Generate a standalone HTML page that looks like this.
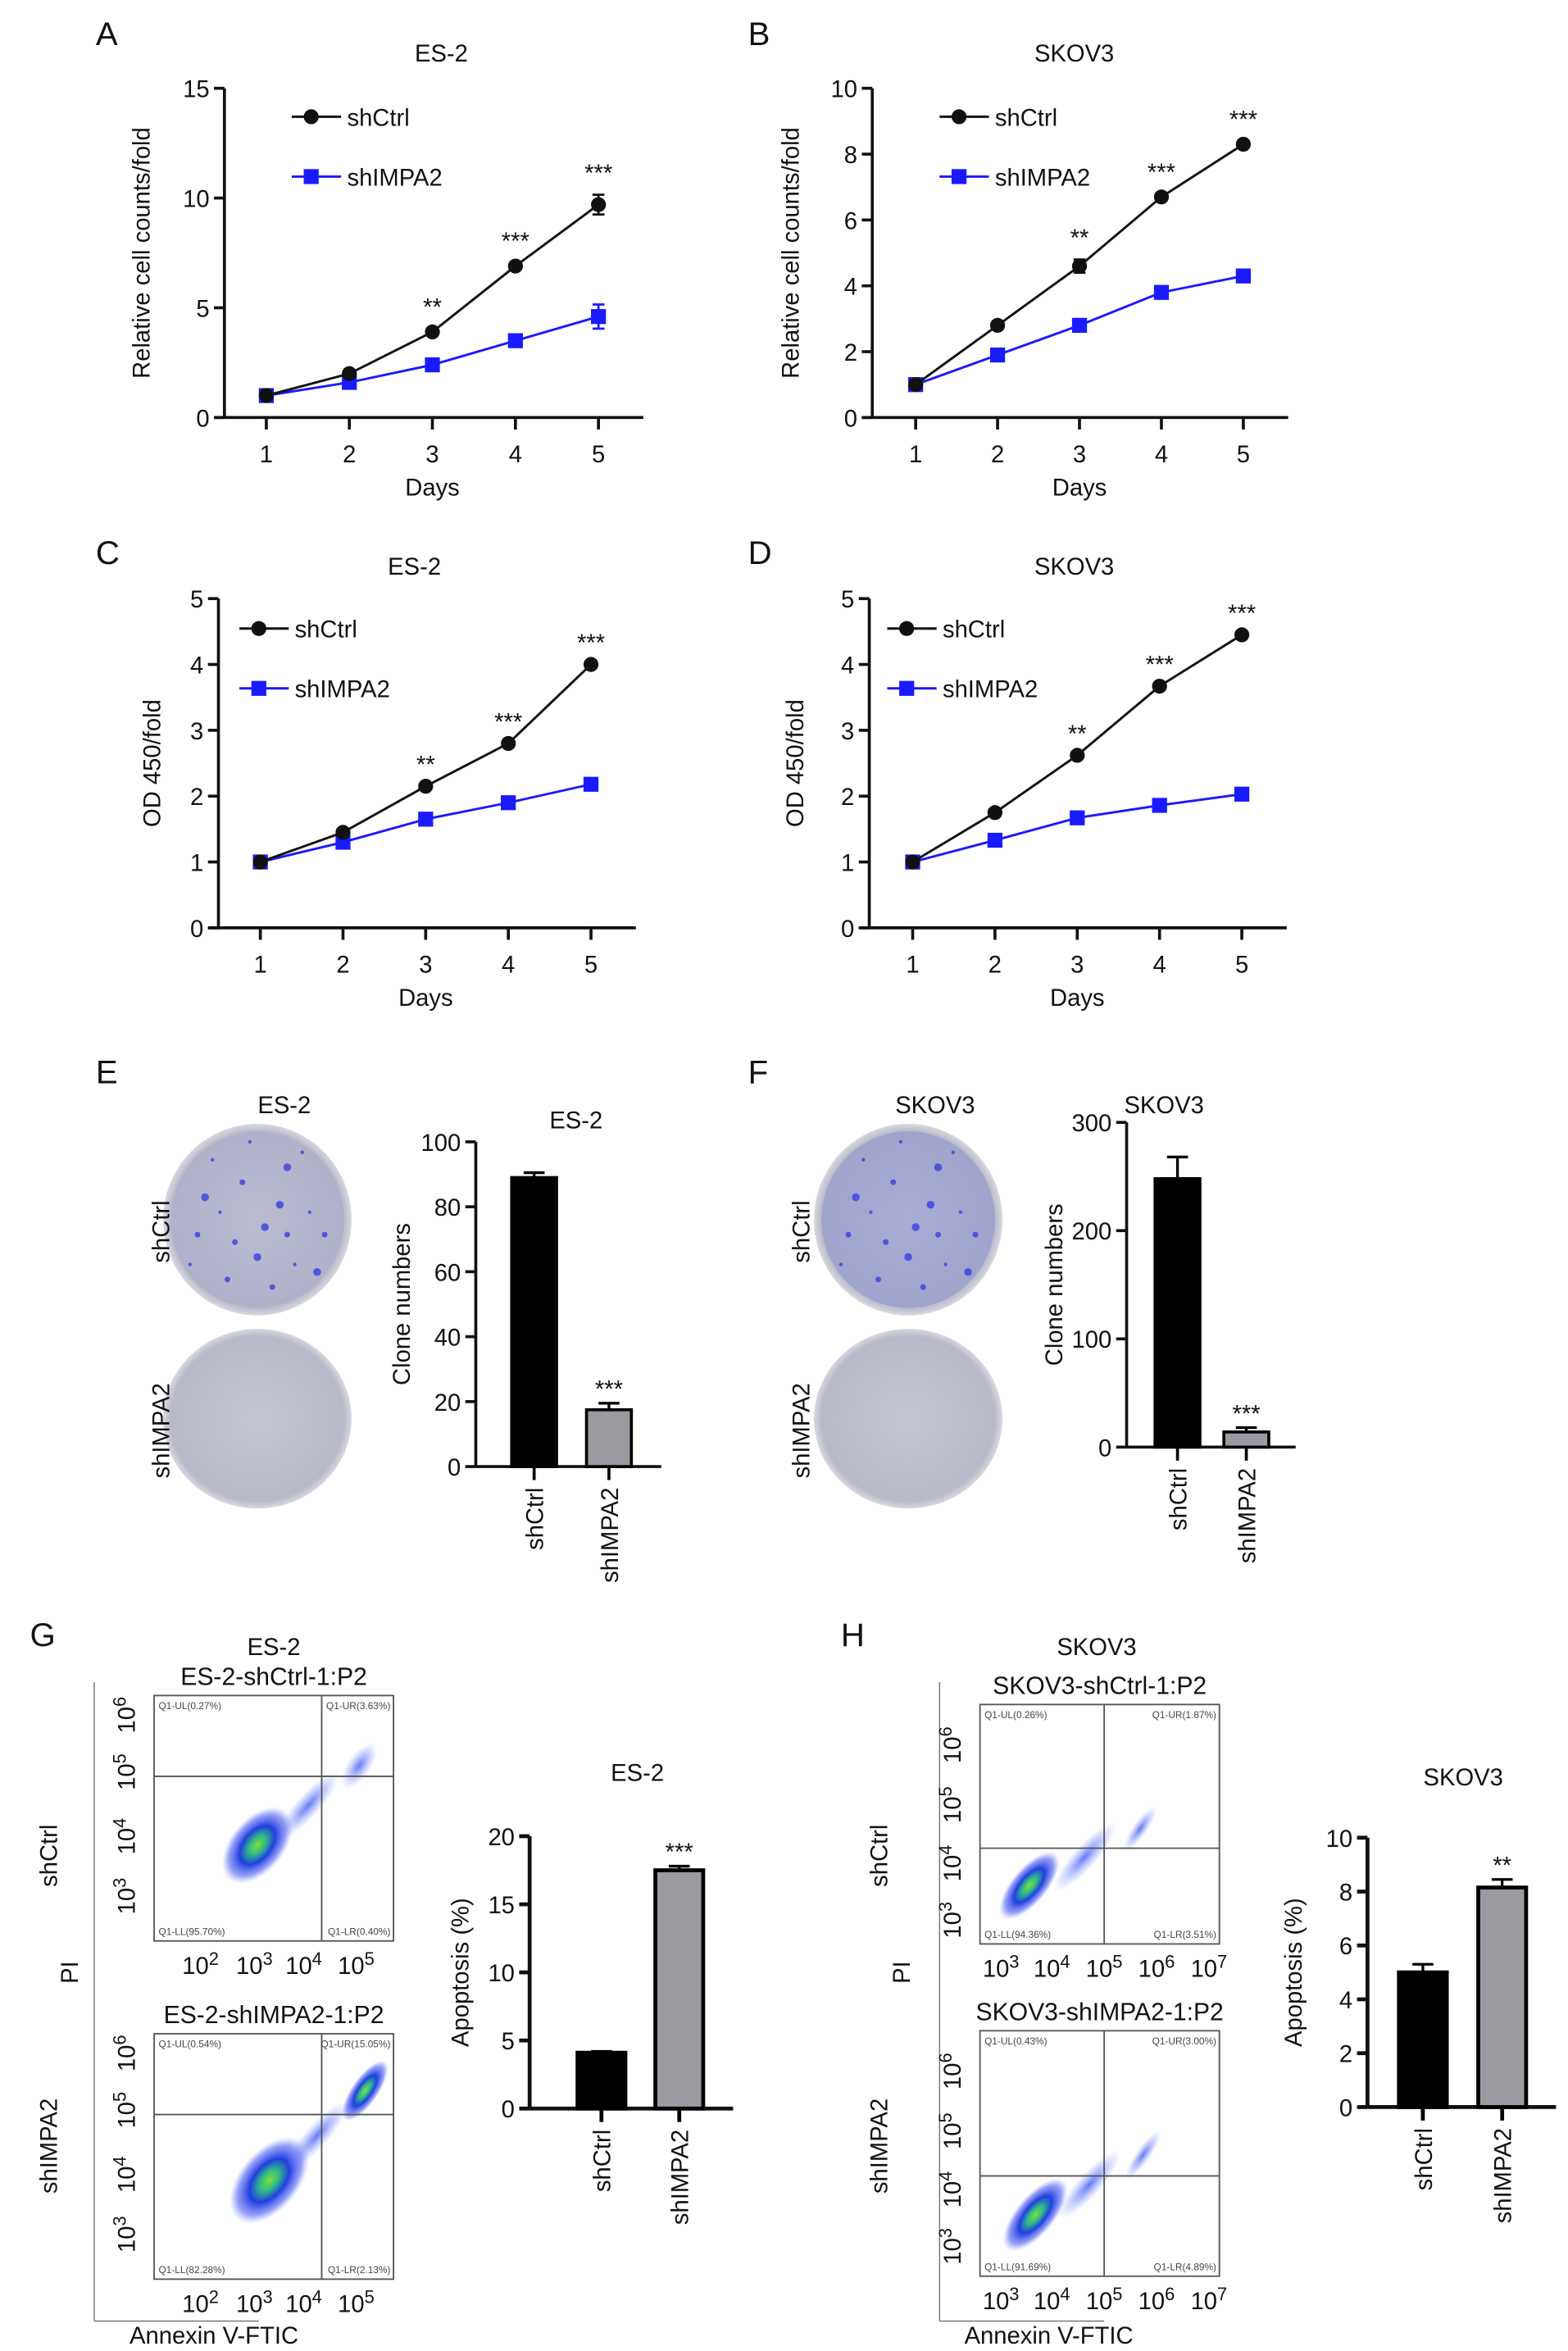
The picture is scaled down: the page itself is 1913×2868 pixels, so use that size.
<!DOCTYPE html>
<html><head><meta charset="utf-8">
<style>
html,body{margin:0;padding:0;background:#fff;}
svg{display:block;font-family:"Liberation Sans",Arial,sans-serif;}
</style></head>
<body>
<svg id="fig" xmlns="http://www.w3.org/2000/svg" width="1913" height="2868" viewBox="0 0 1048 1571" preserveAspectRatio="none">
<defs>
<radialGradient id="cloud" cx="50%" cy="50%" r="50%">
<stop offset="0%" stop-color="#7fe03a"/>
<stop offset="25%" stop-color="#2fb88a"/>
<stop offset="50%" stop-color="#1f3fe0"/>
<stop offset="80%" stop-color="#5060f0" stop-opacity="0.6"/>
<stop offset="100%" stop-color="#8090ff" stop-opacity="0"/>
</radialGradient>
<radialGradient id="cloudb" cx="50%" cy="50%" r="50%">
<stop offset="0%" stop-color="#3a5af0" stop-opacity="0.8"/>
<stop offset="100%" stop-color="#8090ff" stop-opacity="0"/>
</radialGradient>
<radialGradient id="plate" cx="50%" cy="50%" r="50%">
<stop offset="0%" stop-color="#c4c6d2"/>
<stop offset="92%" stop-color="#b8bac8"/>
<stop offset="100%" stop-color="#d8d8e0"/>
</radialGradient>
</defs>
</svg>
<script>
// ---- data ----
const days = [1, 2, 3, 4, 5];
const aCtrl = [1, 2.0, 3.9, 6.9, 9.7];
const aCtrlErr = [0.1, 0.15, 0.15, 0.15, 0.45];
const aSh = [1, 1.6, 2.4, 3.5, 4.6];
const aShErr = [0.1, 0.1, 0.15, 0.15, 0.55];
const aStars = ['', '', '**', '***', '***'];
const aTicks = [0, 5, 10, 15];

const bCtrl = [1, 2.8, 4.6, 6.7, 8.3];
const bCtrlErr = [0.05, 0.1, 0.2, 0.1, 0.1];
const bSh = [1, 1.9, 2.8, 3.8, 4.3];
const bShErr = [0.05, 0.05, 0.1, 0.1, 0.1];
const bStars = ['', '', '**', '***', '***'];
const bTicks = [0, 2, 4, 6, 8, 10];

const cCtrl = [1, 1.45, 2.15, 2.8, 4.0];
const cSh = [1, 1.3, 1.65, 1.9, 2.18];
const cStars = ['', '', '**', '***', '***'];
const dCtrl = [1, 1.75, 2.62, 3.67, 4.45];
const dSh = [1, 1.33, 1.67, 1.86, 2.03];
const dStars = ['', '', '**', '***', '***'];
const cdTicks = [0, 1, 2, 3, 4, 5];
const zeroErr = [0, 0, 0, 0, 0];

const groups = ['shCtrl', 'shIMPA2'];
const eVals = [89, 17.5];
const eErr = [1.5, 2];
const eTicks = [0, 20, 40, 60, 80, 100];
const fVals = [248, 14];
const fErr = [20, 4];
const fTicks = [0, 100, 200, 300];
const gVals = [4.1, 17.5];
const gErr = [0.1, 0.3];
const gTicks = [0, 5, 10, 15, 20];
const hVals = [5.0, 8.15];
const hErr = [0.3, 0.3];
const hTicks = [0, 2, 4, 6, 8, 10];
const barStars = ['', '***'];
const hStars = ['', '**'];

// ---- helpers ----
const NS = 'http://www.w3.org/2000/svg';
const svg = document.getElementById('fig');
function el(tag, attrs, parent) {
  const e = document.createElementNS(NS, tag);
  for (const k in attrs) e.setAttribute(k, attrs[k]);
  (parent || svg).appendChild(e);
  return e;
}
function txt(s, x, y, size, parent, extra) {
  const t = el('text', Object.assign({x: x, y: y, 'font-size': size, 'text-anchor': 'middle', fill: '#111'}, extra || {}), parent);
  t.textContent = s;
  return t;
}
function group(name) {
  const g = el('g', {});
  
  
  return g;
}

function lineChart(name, o) {
  const g = group(name);
  const X = d => o.x1 + (d - 1) * (o.x5 - o.x1) / 4;
  const ymax = o.ticks[o.ticks.length - 1];
  const Y = v => o.yBot - v / ymax * (o.yBot - o.yTop);
  const l = txt(o.letter, o.lx, o.ly, 22, g, {'text-anchor': 'start'});
  
  
  const t = txt(o.title, o.tx, 41, 16, g);
  
  
  const ya = el('line', {x1: o.ax, y1: o.yTop, x2: o.ax, y2: o.yBot, stroke: '#111', 'stroke-width': 2}, g);
  
  
  const xa = el('line', {x1: o.ax - 7, y1: o.yBot, x2: o.x5 + 30, y2: o.yBot, stroke: '#111', 'stroke-width': 2}, g);
  
  
  o.ticks.forEach(v => {
    el('line', {x1: o.ax - 7, y1: Y(v), x2: o.ax, y2: Y(v), stroke: '#111', 'stroke-width': 2}, g);
    const tl = txt(String(v), o.ax - 10, Y(v) + 6, 16, g, {'text-anchor': 'end'});
    
    
  });
  days.forEach(d => {
    el('line', {x1: X(d), y1: o.yBot, x2: X(d), y2: o.yBot + 8, stroke: '#111', 'stroke-width': 2}, g);
    const tl = txt(String(d), X(d), o.yBot + 30, 16, g);
    
    
  });
  const xt = txt('Days', (o.x1 + o.x5) / 2, o.yBot + 52, 16, g);
  
  
  const yc = (o.yTop + o.yBot) / 2;
  const yt = txt(o.ylab, o.ylx, yc, 16, g, {transform: 'rotate(-90 ' + o.ylx + ' ' + yc + ')'});
  
  
  function series(vals, errs, color, square, sname) {
    const sg = el('g', {}, g);
    
    
    el('polyline', {points: vals.map((v, i) => X(days[i]) + ',' + Y(v)).join(' '), fill: 'none', stroke: color, 'stroke-width': 1.6}, sg);
    vals.forEach((v, i) => {
      const x = X(days[i]), y = Y(v), e = errs[i] / ymax * (o.yBot - o.yTop);
      if (e > 1.5) {
        el('line', {x1: x, y1: y - e, x2: x, y2: y + e, stroke: color, 'stroke-width': 1.5}, sg);
        el('line', {x1: x - 4, y1: y - e, x2: x + 4, y2: y - e, stroke: color, 'stroke-width': 1.5}, sg);
        el('line', {x1: x - 4, y1: y + e, x2: x + 4, y2: y + e, stroke: color, 'stroke-width': 1.5}, sg);
      }
      const m = square ? el('rect', {x: x - 5, y: y - 5, width: 10, height: 10, fill: color}, sg)
                       : el('circle', {cx: x, cy: y, r: 5, fill: color}, sg);
      
      
    });
  }
  series(o.sh, o.shErr, '#1a1aff', true, 'series-shimpa2');
  series(o.ctrl, o.ctrlErr, '#111', false, 'series-shctrl');
  o.stars.forEach((s, i) => {
    if (!s) return;
    const st = txt(s, X(days[i]), Y(o.ctrl[i] + o.ctrlErr[i]) - 9, 16, g);
    
    
  });
  const lg = el('g', {}, g);
  
  
  el('line', {x1: o.lgx, y1: o.lgy, x2: o.lgx + 33, y2: o.lgy, stroke: '#111', 'stroke-width': 1.6}, lg);
  el('circle', {cx: o.lgx + 13, cy: o.lgy, r: 5, fill: '#111'}, lg);
  txt('shCtrl', o.lgx + 37, o.lgy + 6, 16, lg, {'text-anchor': 'start'});
  el('line', {x1: o.lgx, y1: o.lgy + 40, x2: o.lgx + 33, y2: o.lgy + 40, stroke: '#1a1aff', 'stroke-width': 1.6}, lg);
  el('rect', {x: o.lgx + 8, y: o.lgy + 35, width: 10, height: 10, fill: '#1a1aff'}, lg);
  txt('shIMPA2', o.lgx + 37, o.lgy + 46, 16, lg, {'text-anchor': 'start'});
}

lineChart('panel-a-chart', {letter: 'A', lx: 64, ly: 30, title: 'ES-2', tx: 295, ax: 150, yTop: 59, yBot: 279, x1: 178, x5: 400, ticks: aTicks, ctrl: aCtrl, ctrlErr: aCtrlErr, sh: aSh, shErr: aShErr, stars: aStars, ylab: 'Relative cell counts/fold', ylx: 100, lgx: 195, lgy: 78});
lineChart('panel-b-chart', {letter: 'B', lx: 500, ly: 30, title: 'SKOV3', tx: 718, ax: 583, yTop: 59, yBot: 279, x1: 612, x5: 831, ticks: bTicks, ctrl: bCtrl, ctrlErr: bCtrlErr, sh: bSh, shErr: bShErr, stars: bStars, ylab: 'Relative cell counts/fold', ylx: 534, lgx: 628, lgy: 78});
lineChart('panel-c-chart', {letter: 'C', lx: 64, ly: 377, title: '', tx: 0, ax: 146, yTop: 400, yBot: 620, x1: 174, x5: 395, ticks: cdTicks, ctrl: cCtrl, ctrlErr: zeroErr, sh: cSh, shErr: zeroErr, stars: cStars, ylab: 'OD 450/fold', ylx: 107, lgx: 160, lgy: 420});
lineChart('panel-d-chart', {letter: 'D', lx: 500, ly: 377, title: '', tx: 0, ax: 581, yTop: 400, yBot: 620, x1: 610, x5: 830, ticks: cdTicks, ctrl: dCtrl, ctrlErr: zeroErr, sh: dSh, shErr: zeroErr, stars: dStars, ylab: 'OD 450/fold', ylx: 537, lgx: 593, lgy: 420});
(function(){
  const t1 = txt('ES-2', 277, 384, 16);  
  const t2 = txt('SKOV3', 718, 384, 16);  
})();

function barChart(name, o) {
  const g = group(name);
  const ymax = o.ticks[o.ticks.length - 1];
  const Y = v => o.yBot - v / ymax * (o.yBot - o.yTop);
  const t = txt(o.title, o.tx, o.ty, 16, g);
  
  
  const ya = el('line', {x1: o.ax, y1: o.yTop, x2: o.ax, y2: o.yBot, stroke: '#111', 'stroke-width': o.sw}, g);
  
  
  const xa = el('line', {x1: o.ax, y1: o.yBot, x2: o.xEnd, y2: o.yBot, stroke: '#111', 'stroke-width': o.sw}, g);
  
  
  o.ticks.forEach(v => {
    el('line', {x1: o.ax - 7, y1: Y(v), x2: o.ax, y2: Y(v), stroke: '#111', 'stroke-width': o.sw}, g);
    const tl = txt(String(v), o.ax - 10, Y(v) + 6, 16, g, {'text-anchor': 'end'});
    
    
  });
  const yc = (o.yTop + o.yBot) / 2;
  const yt = txt(o.ylab, o.ylx, yc, 16, g, {transform: 'rotate(-90 ' + o.ylx + ' ' + yc + ')'});
  
  
  o.vals.forEach((v, i) => {
    const cx = o.cx[i], w = o.bw;
    const b = el('rect', {x: cx - w / 2, y: Y(v), width: w, height: o.yBot - Y(v), fill: i ? '#9a9aa0' : '#000', stroke: '#000', 'stroke-width': o.sw}, g);
    
    
    const e = o.err[i] / ymax * (o.yBot - o.yTop);
    el('line', {x1: cx, y1: Y(v) - e, x2: cx, y2: Y(v), stroke: '#000', 'stroke-width': 1.8}, g);
    el('line', {x1: cx - 7, y1: Y(v) - e, x2: cx + 7, y2: Y(v) - e, stroke: '#000', 'stroke-width': 1.8}, g);
    el('line', {x1: cx, y1: o.yBot, x2: cx, y2: o.yBot + 9, stroke: '#000', 'stroke-width': o.sw}, g);
    const lab = txt(groups[i], cx + 6, o.yBot + 14, 16, g, {'text-anchor': 'end', transform: 'rotate(-90 ' + (cx + 6) + ' ' + (o.yBot + 14) + ')'});
    
    
    if (o.stars[i]) {
      const st = txt(o.stars[i], cx, Y(v) - e - 4, 16, g);
      
      
    }
  });
}
barChart('panel-e-bar-chart', {title: 'ES-2', tx: 385, ty: 754, ax: 318, yTop: 763, yBot: 980, xEnd: 442, ticks: eTicks, vals: eVals, err: eErr, cx: [357, 407], bw: 30, stars: barStars, ylab: 'Clone numbers', ylx: 274, sw: 2});
barChart('panel-f-bar-chart', {title: 'SKOV3', tx: 778, ty: 744, ax: 753, yTop: 750, yBot: 967, xEnd: 866, ticks: fTicks, vals: fVals, err: fErr, cx: [787, 833], bw: 30, stars: barStars, ylab: 'Clone numbers', ylx: 710, sw: 2});
barChart('panel-g-bar-chart', {title: 'ES-2', tx: 426, ty: 1190, ax: 354, yTop: 1227, yBot: 1409, xEnd: 490, ticks: gTicks, vals: gVals, err: gErr, cx: [402, 454], bw: 32, stars: barStars, ylab: 'Apoptosis (%)', ylx: 313, sw: 2.6});
barChart('panel-h-bar-chart', {title: 'SKOV3', tx: 978, ty: 1193, ax: 914, yTop: 1228, yBot: 1408, xEnd: 1040, ticks: hTicks, vals: hVals, err: hErr, cx: [951, 1004], bw: 32, stars: hStars, ylab: 'Apoptosis (%)', ylx: 870, sw: 2.6});

// ---- plates (E, F) ----
function plates(name, letter, lx, title, cx, labx, dense) {
  const g = group(name);
  const l = txt(letter, lx, 724, 22, g, {'text-anchor': 'start'});
   
  const t = txt(title, cx + 18, 744, 16, g);
   
  [[815, 64, 'shCtrl'], [948, 60, 'shIMPA2']].forEach(([cy, ry, lab], k) => {
    const p = el('ellipse', {cx: cx, cy: cy, rx: 63, ry: ry, fill: 'url(#plate)'}, g);
    
    
    if (k === 0) {
      el('ellipse', {cx: cx, cy: cy, rx: 58, ry: 59, fill: '#6a70d8', opacity: dense ? 0.3 : 0.1}, g);
      const spots = [[-30,-40],[-10,-25],[20,-35],[35,-5],[-40,10],[5,5],[25,30],[-20,40],[40,35],[-5,-52],[10,45],[-35,-15],[30,-45],[-15,15],[15,-10],[-25,-5],[45,10],[0,25],[-45,30],[20,10]];
      spots.forEach(([dx, dy], i) => el('circle', {cx: cx + dx, cy: cy + dy, r: 1.2 + (i % 3) * 0.7, fill: '#3b3ee0', opacity: 0.8}, g));
    }
    const lt = txt(lab, labx, cy + 8, 16, g, {transform: 'rotate(-90 ' + labx + ' ' + (cy + 8) + ')'});
     
  });
}
plates('panel-e-plates', 'E', 64, 'ES-2', 172, 113, false);
plates('panel-f-plates', 'F', 500, 'SKOV3', 607, 541, true);

// ---- flow cytometry (G, H) ----
function sup(parent, x, y, base, exp, rot) {
  const t = el('text', {x: x, y: y, 'font-size': 16, 'text-anchor': 'middle', fill: '#111', transform: rot ? 'rotate(-90 ' + x + ' ' + y + ')' : ''}, parent);
  t.textContent = base;
  const s = el('tspan', {dy: -6, 'font-size': 12}, t);
  s.textContent = exp;
  
  
}
function flow(name, o) {
  const g = group(name);
  const box = el('rect', {x: o.x0, y: o.y0, width: o.w, height: o.h, fill: '#fff', stroke: '#555', 'stroke-width': 1}, g);
  
  
  const c1 = el('ellipse', {cx: o.cx, cy: o.cy, rx: o.rx, ry: o.ry, fill: 'url(#cloud)', transform: 'rotate(-50 ' + o.cx + ' ' + o.cy + ')'}, g);
   
  el('ellipse', {cx: o.c2x, cy: o.c2y, rx: o.r2x, ry: o.r2y, fill: o.c2green ? 'url(#cloud)' : 'url(#cloudb)', transform: 'rotate(-55 ' + o.c2x + ' ' + o.c2y + ')'}, g);
  el('ellipse', {cx: (o.cx + o.c2x) / 2, cy: (o.cy + o.c2y) / 2, rx: 30, ry: 8, fill: 'url(#cloudb)', transform: 'rotate(-48 ' + ((o.cx + o.c2x) / 2) + ' ' + ((o.cy + o.c2y) / 2) + ')'}, g);
  el('line', {x1: o.vx, y1: o.y0, x2: o.vx, y2: o.y0 + o.h, stroke: '#555', 'stroke-width': 1}, g);
  el('line', {x1: o.x0, y1: o.hy, x2: o.x0 + o.w, y2: o.hy, stroke: '#555', 'stroke-width': 1}, g);
  const f = 6.5;
  txt('Q1-UL(' + o.q[0] + ')', o.x0 + 3, o.y0 + 9, f, g, {'text-anchor': 'start', fill: '#444'});
  txt('Q1-UR(' + o.q[1] + ')', o.x0 + o.w - 2, o.y0 + 9, f, g, {'text-anchor': 'end', fill: '#444'});
  txt('Q1-LL(' + o.q[2] + ')', o.x0 + 3, o.y0 + o.h - 4, f, g, {'text-anchor': 'start', fill: '#444'});
  txt('Q1-LR(' + o.q[3] + ')', o.x0 + o.w - 2, o.y0 + o.h - 4, f, g, {'text-anchor': 'end', fill: '#444'});
  o.xt.forEach((e, i) => sup(g, o.xtx[i], o.y0 + o.h + 22, '10', e, false));
  o.yt.forEach((e, i) => sup(g, o.x0 - 13, o.yty[i], '10', e, true));
  const tt = txt(o.title, o.x0 + o.w / 2, o.y0 - 7, 16.5, g);
   
}
function flowPanel(name, o) {
  const g = group(name);
  const l = txt(o.letter, o.lx, 1100, 22, g, {'text-anchor': 'start'});
   
  const t = txt(o.title, o.tx, 1106, 16, g);
   
  el('line', {x1: o.axx, y1: 1124, x2: o.axx, y2: 1551, stroke: '#777', 'stroke-width': 0.8}, g);
  el('line', {x1: o.axx, y1: 1551, x2: o.axx + 110, y2: 1551, stroke: '#777', 'stroke-width': 0.8}, g);
  const xl = txt('Annexin V-FTIC', o.annx, 1566, 16, g);
   
  const pi = txt('PI', o.pix, 1318, 16, g, {transform: 'rotate(-90 ' + o.pix + ' 1318)'});
   
  [[1240, 'shCtrl'], [1434, 'shIMPA2']].forEach(([y, s]) => {
    const r = txt(s, o.rlx, y, 16, g, {transform: 'rotate(-90 ' + o.rlx + ' ' + y + ')'});
     
  });
}
flowPanel('panel-g-flow', {letter: 'G', lx: 20, title: 'ES-2', tx: 183, axx: 63, annx: 143, pix: 52, rlx: 38});
flow('flow-es2-shctrl', {x0: 103, y0: 1133, w: 160, h: 164, vx: 215, hy: 1187, q: ['0.27%', '3.63%', '95.70%', '0.40%'], title: 'ES-2-shCtrl-1:P2', xt: ['2', '3', '4', '5'], xtx: [134, 170, 203, 238], yt: ['6', '5', '4', '3'], yty: [1146, 1184, 1227, 1267], cx: 172, cy: 1233, rx: 30, ry: 18, c2x: 240, c2y: 1180, r2x: 18, r2y: 8, c2green: false});
flow('flow-es2-shimpa2', {x0: 103, y0: 1359, w: 160, h: 164, vx: 215, hy: 1413, q: ['0.54%', '15.05%', '82.28%', '2.13%'], title: 'ES-2-shIMPA2-1:P2', xt: ['2', '3', '4', '5'], xtx: [134, 170, 203, 238], yt: ['6', '5', '4', '3'], yty: [1372, 1410, 1453, 1493], cx: 180, cy: 1457, rx: 34, ry: 20, c2x: 244, c2y: 1397, r2x: 24, r2y: 9, c2green: true});
flowPanel('panel-h-flow', {letter: 'H', lx: 562, title: 'SKOV3', tx: 733, axx: 628, annx: 701, pix: 608, rlx: 593});
flow('flow-skov3-shctrl', {x0: 655, y0: 1139, w: 160, h: 160, vx: 738, hy: 1235, q: ['0.26%', '1.87%', '94.36%', '3.51%'], title: 'SKOV3-shCtrl-1:P2', xt: ['3', '4', '5', '6', '7'], xtx: [669, 703, 738, 773, 808], yt: ['6', '5', '4', '3'], yty: [1166, 1206, 1245, 1283], cx: 688, cy: 1260, rx: 28, ry: 12, c2x: 762, c2y: 1222, r2x: 18, r2y: 5, c2green: false});
flow('flow-skov3-shimpa2', {x0: 655, y0: 1357, w: 160, h: 164, vx: 738, hy: 1454, q: ['0.43%', '3.00%', '91.69%', '4.89%'], title: 'SKOV3-shIMPA2-1:P2', xt: ['3', '4', '5', '6', '7'], xtx: [669, 703, 738, 773, 808], yt: ['6', '5', '4', '3'], yty: [1384, 1424, 1463, 1501], cx: 692, cy: 1480, rx: 30, ry: 13, c2x: 764, c2y: 1440, r2x: 20, r2y: 5, c2green: false});
</script>
</body></html>
